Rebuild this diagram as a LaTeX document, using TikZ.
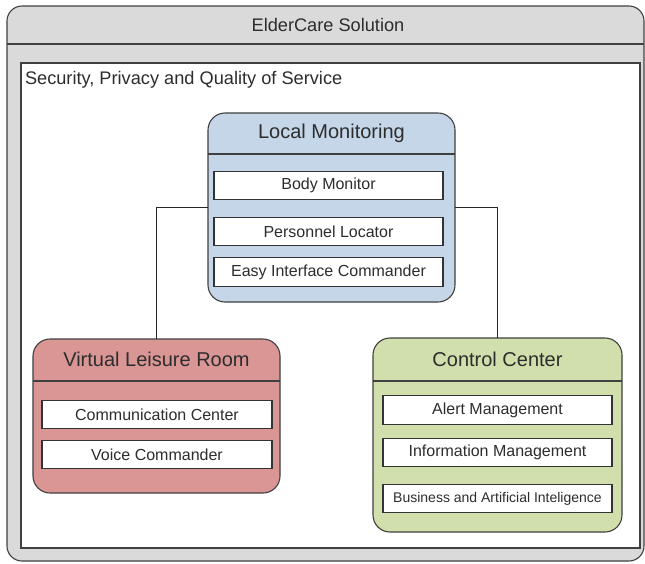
\documentclass[tikz,border=0pt]{standalone}
\usepackage{fontspec}
\setmainfont{Liberation Sans}
\definecolor{lmblue}{RGB}{197,214,233}
\definecolor{vlred}{RGB}{217,150,148}
\definecolor{ccgreen}{RGB}{209,223,172}
\definecolor{outgray}{RGB}{218,218,218}
\definecolor{txt}{RGB}{45,45,45}
\begin{document}
\begin{tikzpicture}[x=1pt,y=-1pt,
  every node/.style={inner sep=0pt,outer sep=0pt,text=txt},
  frame/.style={draw=black!75,line width=1.1pt,rectangle},
  group/.style={frame,rounded corners=17pt},
  item/.style={draw=black!80,line width=1.3pt,fill=white,rectangle,minimum height=28.5pt,font=\fontsize{16}{19}\selectfont},
  ttl/.style={font=\fontsize{20}{24}\selectfont},
  big/.style={font=\fontsize{18.2}{22}\selectfont},
  link/.style={draw=black!85,line width=0.9pt}]
\useasboundingbox (0,0) rectangle (645,563);
% outer frame
\node[frame,rounded corners=15pt,fill=outgray,minimum width=637pt,minimum height=555pt] (outer) at (325.5,283.5) {};
\draw[frame] (outer.west |- 0,44) -- (outer.east |- 0,44);
\node[big] (title) at (328,25) {ElderCare Solution};
\node[frame,fill=white,minimum width=619pt,minimum height=485pt] (inner) at (330.5,305.5) {};
\node[big,anchor=west] (sec) at (25,80) {Security, Privacy and Quality of Service};
% Local Monitoring
\node[group,fill=lmblue,minimum width=247pt,minimum height=189pt] (lm) at (331.5,207.5) {};
\draw[frame] (lm.west |- 0,154) -- (lm.east |- 0,154);
\node[ttl] (lmt) at (331.5,133.5) {Local Monitoring};
\node[item,minimum width=229pt] (bm) at (328.5,185.5) {Body Monitor};
\node[item,minimum width=229pt] (pl) at (328.5,231.5) {Personnel Locator};
\node[item,minimum width=229pt] (eic) at (328.5,272) {Easy Interface Commander};
% Virtual Leisure Room
\node[group,fill=vlred,minimum width=247pt,minimum height=154pt] (vlr) at (156.5,416) {};
\draw[frame] (vlr.west |- 0,381) -- (vlr.east |- 0,381);
\node[ttl] (vlrt) at (156.5,359) {Virtual Leisure Room};
\node[item,minimum width=230pt] (cc1) at (157,414.5) {Communication Center};
\node[item,minimum width=230pt] (vc) at (157,454.5) {Voice Commander};
% Control Center
\node[group,fill=ccgreen,minimum width=249pt,minimum height=194pt] (cc) at (497.5,435) {};
\draw[frame] (cc.west |- 0,381) -- (cc.east |- 0,381);
\node[ttl] (cct) at (497.5,359) {Control Center};
\node[item,minimum width=229pt] (am) at (497.5,410) {Alert Management};
\node[item,minimum width=229pt] (im) at (497.5,452.5) {Information Management};
\node[item,minimum width=229pt,font=\fontsize{14}{17}\selectfont] (bai) at (497.5,498.5) {Business and Artificial Inteligence};
% connectors
\draw[link] (lm.west) -| (vlr.north);
\draw[link] (lm.east) -| (cc.north);
\end{tikzpicture}
\end{document}
